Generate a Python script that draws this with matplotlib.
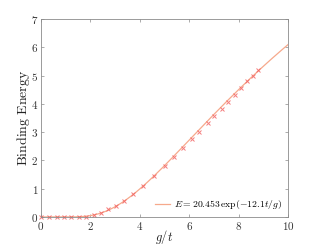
import numpy as np
import matplotlib
matplotlib.use("Agg")
import matplotlib.pyplot as plt

plt.rcParams['mathtext.fontset'] = 'cm'
plt.rcParams['font.family'] = ['DejaVu Serif']

# measured points (g/t, binding energy)
g_pts = [0.0, 0.34, 0.65, 0.94, 1.22, 1.53, 1.83, 2.14, 2.42, 2.73, 3.03, 3.34,
         3.74, 4.12, 4.59, 5.01, 5.38, 5.76, 6.10, 6.41, 6.77, 7.00, 7.31, 7.58,
         7.85, 8.08, 8.32, 8.59, 8.79]
e_pts = [0.0, 0.0, 0.0, 0.0, 0.0, 0.0, 0.01, 0.06, 0.14, 0.27, 0.39, 0.55,
         0.82, 1.09, 1.45, 1.80, 2.13, 2.45, 2.74, 3.02, 3.32, 3.58, 3.82, 4.08,
         4.32, 4.56, 4.79, 5.00, 5.21]

# fit from legend
fit_a = 20.453
fit_b = 12.1
g_fit = np.linspace(0.05, 10, 400)
e_fit = fit_a * np.exp(-fit_b / g_fit)

xticks = [0, 2, 4, 6, 8, 10]
yticks = [0, 1, 2, 3, 4, 5, 6, 7]

fig = plt.figure(figsize=(3.19, 2.46), dpi=100)
ax = fig.add_axes([0.1285, 0.118, 0.775, 0.805])

ax.plot(g_fit, e_fit, color='#f6a98c', lw=0.9,
        label=r'$E = 20.453\,\exp(-12.1t/g)$')
ax.plot(g_pts, e_pts, 'x', color='#f25c5c', ms=3.3, mew=0.7, alpha=0.8,
        clip_on=False)

ax.set_xlim(0, 10)
ax.set_ylim(0, 7)
ax.set_xticks(xticks)
ax.set_yticks(yticks)
ax.set_xticklabels([f'${v}$' for v in xticks])
ax.set_yticklabels([f'${v}$' for v in yticks])

for s in ax.spines.values():
    s.set_color('#8a8a8a')
    s.set_linewidth(0.6)
ax.tick_params(direction='in', length=2.5, width=0.5, color='#8a8a8a',
               labelsize=8, labelcolor='#333333', top=True, right=True, pad=2)

ax.set_xlabel(r'$g/t$', fontsize=9, labelpad=-2.5, color='#222222')
ax.set_ylabel(r'$\mathrm{Binding\ Energy}$', fontsize=10, labelpad=-1,
              color='#222222')

ax.legend(loc='lower right', frameon=False, fontsize=7, handlelength=1.5,
          handletextpad=0.5, borderaxespad=0.2)

fig.savefig('out.png', dpi=100)
